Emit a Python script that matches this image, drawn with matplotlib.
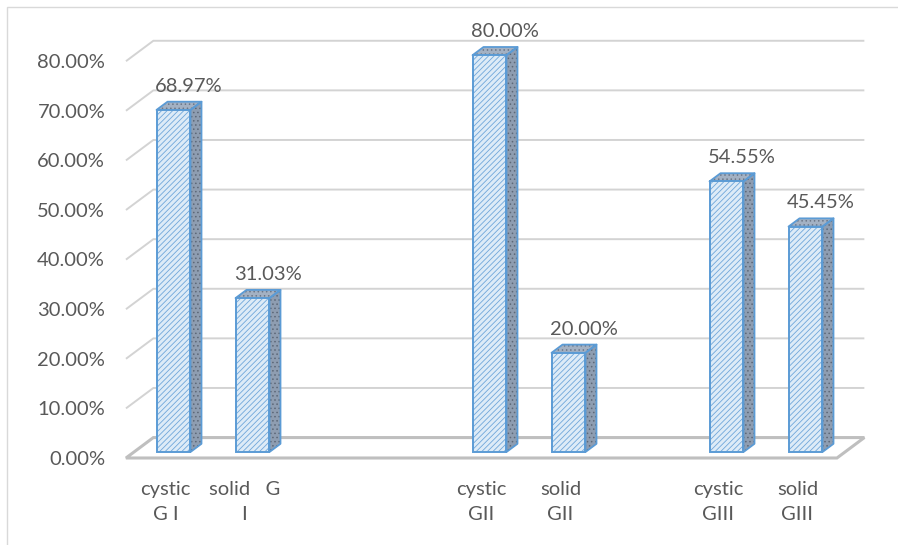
import matplotlib
matplotlib.use("Agg")
import matplotlib.pyplot as plt
from matplotlib.patches import Polygon, Rectangle

categories = ["cystic\nG I", "solid   G\nI", "", "", "cystic\nGII", "solid\nGII", "",
              "cystic\nGIII", "solid\nGIII"]
shares = [68.97, 31.03, None, None, 80.00, 20.00, None, 54.55, 45.45]
y_ticks = [0, 10, 20, 30, 40, 50, 60, 70, 80]

# layout in pixels (figure is drawn at 100 dpi)
FIG_W, FIG_H = 898, 545
SLOT_PX = 79.0
PCT_PX = 4.96
X0_PX = 173.5
Y0_PX = 452.0

# depth axis of the fake 3d box, one unit = bar thickness
DEPTH_DX = 11.0 / SLOT_PX
DEPTH_DY = 8.2 / PCT_PX
FRONT = -0.73
BACK = 1.76
BAR_W = 0.43

TEXT = "#595959"
GRID = "#d3d3d3"
FLOOR = "#bfbfbf"
BLUE = "#5b9bd5"

plt.rcParams["font.family"] = ["Lato", "DejaVu Sans"]
plt.rcParams["hatch.linewidth"] = 0.6


def proj(s, v, d):
    return s + d * DEPTH_DX, v + d * DEPTH_DY


fig = plt.figure(figsize=(FIG_W / 100, FIG_H / 100), dpi=100)
ax = fig.add_axes([0, 0, 1, 1])
ax.set_xlim(-X0_PX / SLOT_PX, (FIG_W - X0_PX) / SLOT_PX)
ax.set_ylim((Y0_PX - FIG_H) / PCT_PX, Y0_PX / PCT_PX)
ax.axis("off")

left = -0.5
right = len(categories) - 0.5

# back wall gridlines with the short return on the left side
for v in y_ticks[1:]:
    pts = [proj(left, v, FRONT), proj(left, v, BACK), proj(right, v, BACK)]
    ax.plot([p[0] for p in pts], [p[1] for p in pts], color=GRID, lw=1.4,
            solid_capstyle="butt", zorder=1)

floor = [proj(left, 0, FRONT), proj(right, 0, FRONT), proj(right, 0, BACK), proj(left, 0, BACK)]
ax.add_patch(Polygon(floor, closed=True, facecolor="white", edgecolor=FLOOR, lw=2.2,
                     joinstyle="miter", zorder=2))

# y tick labels sit on the front-left corner of each level
for v in y_ticks:
    x, y = proj(left, v, FRONT)
    ax.annotate(f"{v:.2f}%", (x, y), xytext=(-15, -1), textcoords="offset points",
                ha="right", va="center", fontsize=14.5, color=TEXT)

for i, (label, value) in enumerate(zip(categories, shares)):
    lx, _ = proj(i, 0, FRONT)
    if label:
        ax.annotate(label, (lx, 0), xytext=(0, -21), textcoords="offset points",
                    ha="center", va="top", fontsize=14.5, color=TEXT, linespacing=1.55)
    if value is None:
        continue
    x0, x1 = i - BAR_W / 2, i + BAR_W / 2
    side = [proj(x1, 0, 0), proj(x1, 0, 1), proj(x1, value, 1), proj(x1, value, 0)]
    top = [proj(x0, value, 0), proj(x1, value, 0), proj(x1, value, 1), proj(x0, value, 1)]
    ax.add_patch(Polygon(side, closed=True, facecolor="#8e9db1", edgecolor="#5d6878",
                         lw=0, hatch="....", zorder=3))
    ax.add_patch(Polygon(top, closed=True, facecolor="#a3b1c3", edgecolor="#6c7788",
                         lw=0, hatch="....", zorder=3))
    for poly in (side, top):
        ax.add_patch(Polygon(poly, closed=True, fill=False, edgecolor=BLUE, lw=1.3,
                             joinstyle="round", zorder=4))
    ax.bar(i, value, width=BAR_W, color="#ddebf7", edgecolor="#6fa6da", lw=0,
           hatch="//////", zorder=5)
    ax.bar(i, value, width=BAR_W, fill=False, edgecolor=BLUE, lw=1.4, zorder=6)
    ax.annotate(f"{value:.2f}%", (i, value), xytext=(11, 17), textcoords="offset points",
                ha="center", va="center", fontsize=14.5, color=TEXT, zorder=7)

# thin chart border
fig.add_artist(Rectangle((7 / FIG_W, -0.05), 1.1, (FIG_H - 7) / FIG_H + 0.05,
                         transform=fig.transFigure, fill=False, edgecolor="#d9d9d9", lw=1))

fig.savefig("out.png", dpi=100)
